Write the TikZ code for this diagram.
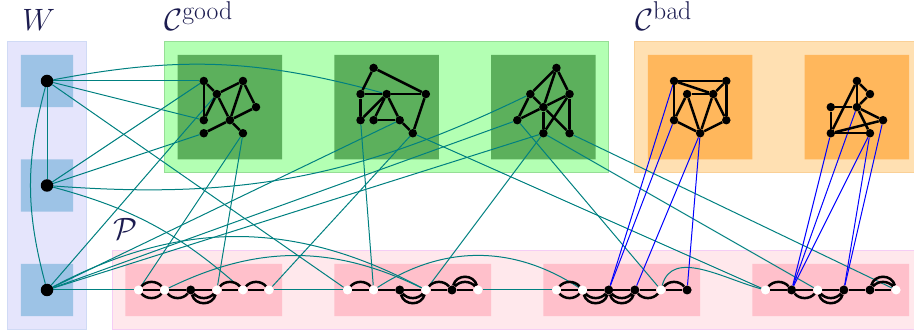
\documentclass[tikz,border=0pt]{standalone}
\usepackage{xcolor}
\definecolor{colWout}{RGB}{229,229,252}
\definecolor{colWoutb}{RGB}{208,218,245}
\definecolor{colWin}{RGB}{157,195,230}
\definecolor{colGout}{RGB}{179,255,179}
\definecolor{colGoutb}{RGB}{150,222,150}
\definecolor{colGin}{RGB}{92,176,92}
\definecolor{colBout}{RGB}{255,224,178}
\definecolor{colBoutb}{RGB}{250,208,150}
\definecolor{colBin}{RGB}{255,183,92}
\definecolor{colPout}{RGB}{255,232,236}
\definecolor{colPoutb}{RGB}{245,205,245}
\definecolor{colPin}{RGB}{255,192,203}
\definecolor{colLab}{RGB}{28,28,80}
\definecolor{colTeal}{RGB}{0,128,128}
\pgfdeclarelayer{bg}
\pgfdeclarelayer{edge}
\pgfsetlayers{bg,edge,main}
\begin{document}
\begin{tikzpicture}[x=13.0625pt,y=13.0625pt,
  wn/.style={circle,fill=black,inner sep=0pt,minimum size=12.5pt},
  cn/.style={circle,fill=black,inner sep=0pt,minimum size=8.5pt},
  pw/.style={circle,fill=white,inner sep=0pt,minimum size=9pt},
  pb/.style={circle,fill=black,inner sep=0pt,minimum size=9pt},
  te/.style={draw=colTeal,line width=1pt},
  be/.style={draw=blue,line width=1pt},
  ke/.style={draw=black,line width=2.5pt},
  sa/.style={bend left=50},
  sb/.style={bend right=50},
  da/.style={bend left=75,looseness=1.3},
  db/.style={bend right=75,looseness=1.3},
  lbl/.style={text=colLab,inner sep=0pt,anchor=base west,scale=1.24,font=\fontsize{24.88}{30}\selectfont}]
\useasboundingbox (-1.6,4.2) rectangle (68.37,-21.29);
\begin{pgfonlayer}{bg}
  \filldraw[fill=colWout,draw=colWoutb,line width=1pt] (-1,1) rectangle (5,-21);
  \fill[colWin] (0,0) rectangle (4,-4) (0,-8) rectangle (4,-12) (0,-16) rectangle (4,-20);
  \filldraw[fill=colGout,draw=colGoutb,line width=1pt] (11,1) rectangle (45,-9);
  \fill[colGin] (12,0) rectangle (20,-8) (24,0) rectangle (32,-8) (36,0) rectangle (44,-8);
  \filldraw[fill=colBout,draw=colBoutb,line width=1pt] (47,1) rectangle (71,-9);
  \fill[colBin] (48,0) rectangle (56,-8) (60,0) rectangle (68,-8);
  \filldraw[fill=colPout,draw=colPoutb,line width=1pt] (7,-15) rectangle (71,-21);
  \fill[colPin] (8,-16) rectangle (20,-20) (24,-16) rectangle (36,-20) (40,-16) rectangle (52,-20) (56,-16) rectangle (68,-20);
\end{pgfonlayer}
% labels
\node[lbl] (LW) at (0.1,1.88) {$W$};
\node[lbl] (LG) at (10.96,1.88) {$\mathcal{C}^{\mathrm{good}}$};
\node[lbl] (LB) at (47.0,1.88) {$\mathcal{C}^{\mathrm{bad}}$};
\node[lbl] (LP) at (7.05,-14.17) {$\mathcal{P}$};
% W nodes
\node[wn] (W1) at (2,-2) {};
\node[wn] (W2) at (2,-10) {};
\node[wn] (W3) at (2,-18) {};
% clusters
\foreach \n/\x/\y in {a1/14/2,a2/17/2,a3/15/3,a4/18/4,a5/14/5,a6/16/5,a7/14/6,a8/17/6,
  b1/27/1,b2/26/3,b3/28/3,b4/31/3,b5/26/5,b6/27/5,b7/29/5,b8/30/6,
  c1/41/1,c2/39/3,c3/42/3,c4/40/4,c5/38/5,c6/40/6,c7/42/6,
  d1/50/2,d2/54/2,d3/51/3,d4/53/3,d5/50/5,d6/54/5,d7/52/6,
  e1/64/2,e2/65/3,e3/62/4,e4/64/4,e5/66/5,e6/62/6,e7/65/6}
  \node[cn] (\n) at (\x,-\y) {};
% path nodes
\foreach \n/\x/\s in {p1/9/pw,p2/11/pw,p3/13/pb,p4/15/pw,p5/17/pw,p6/19/pw,
  q1/25/pw,q2/27/pw,q3/29/pb,q4/31/pw,q5/33/pb,q6/35/pw,
  r1/41/pw,r2/43/pw,r3/45/pb,r4/47/pb,r5/49/pw,r6/51/pb,
  s1/57/pw,s2/59/pb,s3/61/pw,s4/63/pb,s5/65/pb,s6/67/pw}
  \node[\s] (\n) at (\x,-18) {};
\begin{pgfonlayer}{edge}
% teal edges
\draw[te] (W1) -- (W2);
\draw[te] (W1) to[bend right=15] (W3);
\draw[te] (W1) -- (a1);
\draw[te] (W1) -- (a5);
\draw[te] (W1) to[bend left=13] (b3);
\draw[te] (W1) -- (q1);
\draw[te] (W2) -- (a1);
\draw[te] (W2) -- (a7);
\draw[te] (W2) to[bend right=15] (c2);
\draw[te] (W2) to[bend left=13] (p5);
\draw[te] (W3) -- (p1);
\draw[te] (W3) -- (a3);
\draw[te] (W3) -- (b7);
\draw[te] (W3) -- (c5);
\draw[te] (W3) -- (c6);
\draw[te] (W3) to[bend left=28] (q4);
\draw[te] (a8) -- (p1);
\draw[te] (a8) -- (p4);
\draw[te] (b5) -- (q2);
\draw[te] (b8) -- (p6);
\draw[te] (b8) -- (s1);
\draw[te] (c5) -- (r5);
\draw[te] (c6) -- (q4);
\draw[te] (c6) -- (s3);
\draw[te] (c7) -- (s6);
\draw[te] (p2) to[bend left=26] (q4);
\draw[te] (q2) to[bend left=33] (r2);
\draw[te] (r5) to[out=75,in=165] (s1);
\draw[te] (p6) -- (q1);
\draw[te] (q6) -- (r1);
% blue edges
\foreach \u/\v in {d1/r3,d5/r3,d7/r4,d7/r6,e6/s2,e4/s2,e7/s2,e7/s4,e5/s4}
  \draw[be] (\u) -- (\v);
% cluster edges
\foreach \u/\v in {a1/a3,a1/a5,a3/a5,a3/a6,a3/a2,a2/a6,a2/a4,a4/a6,a6/a7,a6/a8,
  b1/b2,b1/b4,b2/b3,b3/b4,b2/b5,b5/b3,b3/b6,b3/b7,b6/b7,b4/b8,b7/b8,
  c1/c2,c1/c3,c1/c4,c2/c5,c2/c4,c4/c7,c5/c4,c4/c3,c4/c6,c3/c6,c3/c7,
  d1/d2,d1/d4,d3/d4,d2/d4,d1/d5,d2/d6,d3/d5,d3/d7,d4/d7,d4/d6,d5/d7,d6/d7,
  e1/e2,e1/e4,e2/e4,e1/e6,e3/e4,e3/e6,e4/e7,e4/e5,e6/e7,e6/e5}
  \draw[ke] (\u) -- (\v);
% path straight edges
\foreach \u/\v in {p1/p2,p2/p3,p3/p4,p4/p5,p5/p6,q1/q2,q2/q3,q3/q4,q4/q5,q5/q6,
  r1/r2,r2/r3,r3/r4,r4/r5,r5/r6,s1/s2,s2/s3,s3/s4,s4/s5,s5/s6}
  \draw[ke] (\u) -- (\v);
% path arcs
\draw[ke] (p1) to[sa] (p2) (p1) to[sb] (p2) (p2) to[sb] (p3)
  (p3) to[sb] (p4) (p3) to[db] (p4) (p4) to[sa] (p5) (p5) to[sa] (p6);
\draw[ke] (q1) to[sa] (q2) (q3) to[sb] (q4) (q3) to[db] (q4)
  (q4) to[sa] (q5) (q5) to[sa] (q6) (q5) to[da] (q6);
\draw[ke] (r1) to[sa] (r2) (r1) to[sb] (r2) (r2) to[sb] (r3) (r2) to[db] (r3)
  (r3) to[sb] (r4) (r3) to[db] (r4) (r4) to[sb] (r5) (r5) to[sa] (r6);
\draw[ke] (s1) to[sa] (s2) (s2) to[sb] (s3) (s3) to[sb] (s4) (s3) to[db] (s4)
  (s5) to[sa] (s6) (s5) to[da] (s6);
\end{pgfonlayer}
\end{tikzpicture}
\end{document}
